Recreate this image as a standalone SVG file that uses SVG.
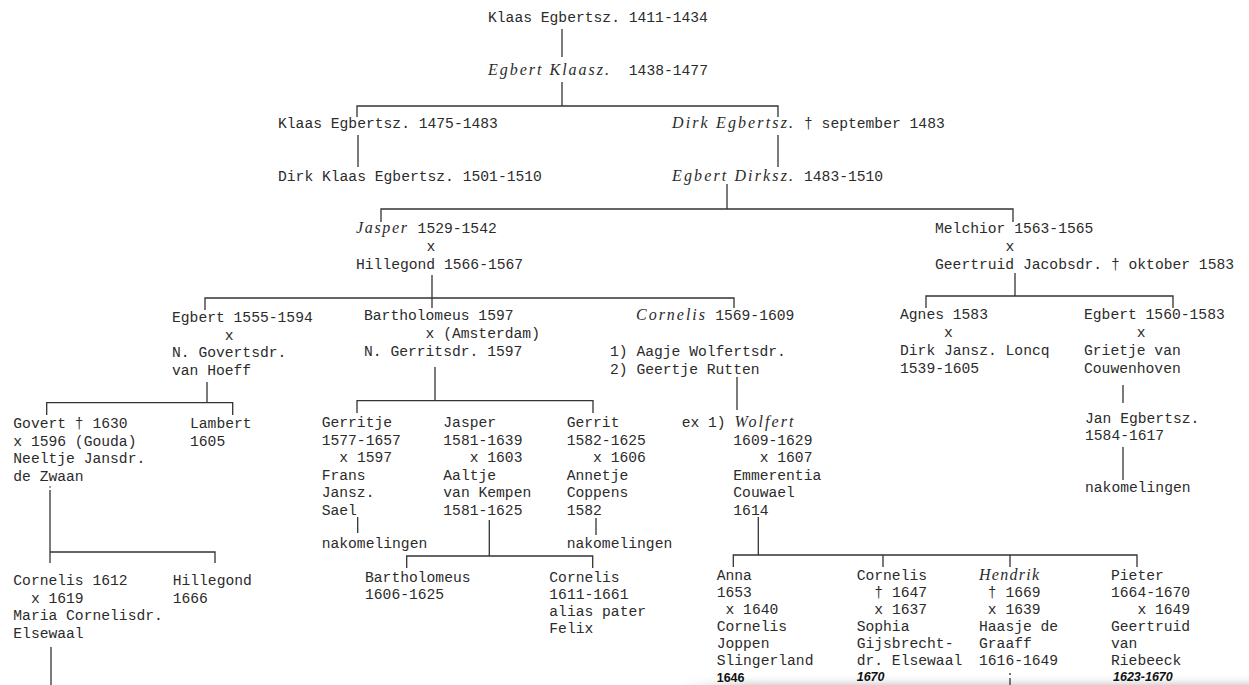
<svg xmlns="http://www.w3.org/2000/svg" width="1249" height="685" viewBox="0 0 1249 685">
<defs>
<style>
.t{font-family:"Liberation Mono","DejaVu Sans Mono",monospace;font-size:14.67px;fill:#2b2b2b}
.i{font-family:"Liberation Serif","DejaVu Serif",serif;font-style:italic;font-size:16px;fill:#2b2b2b}
.h{font-family:"Liberation Sans","DejaVu Sans",sans-serif;font-weight:bold;font-style:italic;font-size:12.5px;fill:#111}
.hn{font-style:normal}
.c path{stroke:#333;stroke-width:1.3;fill:none}
</style>
<linearGradient id="band" x1="0" y1="0" x2="0" y2="1">
<stop offset="0" stop-color="#ffffff" stop-opacity="0"/>
<stop offset="1" stop-color="#d9d9d9"/>
</linearGradient>
<linearGradient id="fade" x1="0" y1="0" x2="1" y2="0">
<stop offset="0" stop-color="#fff"/>
<stop offset="0.12" stop-color="#fff" stop-opacity="0"/>
</linearGradient>
</defs>
<rect x="0" y="0" width="1249" height="685" fill="#ffffff"/>
<rect x="680" y="674" width="569" height="11" fill="url(#band)"/>
<rect x="680" y="674" width="569" height="11" fill="url(#fade)"/>

<g id="connectors" class="c">
<path d="M562 29V57"/>
<path d="M562 82V106"/>
<path d="M357 117V106H778V117"/>
<path d="M358 135V167"/>
<path d="M778 135V167"/>
<path d="M727 184V209"/>
<path d="M381 222V209H1013V222"/>
<path d="M432 275V308"/>
<path d="M205 310V298H734V308"/>
<path d="M1015 273V296"/>
<path d="M926 308V296H1173V308"/>
<path d="M207 382V402.7"/>
<path d="M46.7 415V402.7H232.7V415"/>
<path d="M435 367V400.7"/>
<path d="M357 413V400.7H593V413"/>
<path d="M737 377V410"/>
<path d="M1123 385V403"/>
<path d="M1123 447V480"/>
<path d="M50 490V563"/>
<path d="M50 552H215V563"/>
<path d="M357.7 517V533"/>
<path d="M596 518V535"/>
<path d="M489.3 520V556"/>
<path d="M406.7 568V556H592.7V568"/>
<path d="M758.3 517V555"/>
<path d="M733.3 567V555H1137V567"/>
<path d="M883 555V567"/>
<path d="M1010 555V567"/>
<path d="M51 647V685"/>
<path d="M1010 678V685"/>
<circle cx="1010" cy="674" r="0.9" fill="#333"/>
<circle cx="50" cy="487" r="0.8" fill="#333"/>
</g>

<g id="n-klaas-1411"><text class="t" x="488" y="22">Klaas Egbertsz. 1411-1434</text></g>
<g id="n-egbert-klaasz"><text class="i" x="488" y="75" textLength="121" lengthAdjust="spacing">Egbert Klaasz.</text><text class="t" x="628.8" y="75">1438-1477</text></g>
<g id="n-klaas-1475"><text class="t" x="278" y="128">Klaas Egbertsz. 1475-1483</text></g>
<g id="n-dirk-egbertsz"><text class="i" x="672" y="128" textLength="121" lengthAdjust="spacing">Dirk Egbertsz.</text><text class="t" x="804" y="128">† september 1483</text></g>
<g id="n-dirk-klaas"><text class="t" x="278" y="181">Dirk Klaas Egbertsz. 1501-1510</text></g>
<g id="n-egbert-dirksz"><text class="i" x="672" y="181" textLength="121" lengthAdjust="spacing">Egbert Dirksz.</text><text class="t" x="804" y="181">1483-1510</text></g>

<g id="n-jasper"><text class="i" x="356" y="233" textLength="51" lengthAdjust="spacing">Jasper</text><text class="t" x="417.6" y="233">1529-1542</text><text class="t" x="426.4" y="251">x</text><text class="t" x="356" y="269">Hillegond 1566-1567</text></g>
<g id="n-melchior"><text class="t" x="935" y="233">Melchior 1563-1565</text><text class="t" x="1005.4" y="251">x</text><text class="t" x="935" y="269">Geertruid Jacobsdr. † oktober 1583</text></g>

<g id="n-egbert-1555"><text class="t" x="172" y="322">Egbert 1555-1594</text><text class="t" x="224.8" y="339.5">x</text><text class="t" x="172" y="357">N. Govertsdr.</text><text class="t" x="172" y="374.5">van Hoeff</text></g>
<g id="n-bartholomeus-1597"><text class="t" x="364" y="320">Bartholomeus 1597</text><text class="t" x="425.6" y="338">x (Amsterdam)</text><text class="t" x="364" y="356">N. Gerritsdr. 1597</text></g>
<g id="n-cornelis-1569"><text class="i" x="636" y="320" textLength="69" lengthAdjust="spacing">Cornelis</text><text class="t" x="715.2" y="320">1569-1609</text><text class="t" x="610" y="356">1) Aagje Wolfertsdr.</text><text class="t" x="610" y="373.5">2) Geertje Rutten</text></g>
<g id="n-agnes"><text class="t" x="900" y="318.5">Agnes 1583</text><text class="t" x="944" y="337">x</text><text class="t" x="900" y="355">Dirk Jansz. Loncq</text><text class="t" x="900" y="372.5">1539-1605</text></g>
<g id="n-egbert-1560"><text class="t" x="1084" y="318.5">Egbert 1560-1583</text><text class="t" x="1136.8" y="337">x</text><text class="t" x="1084" y="355">Grietje van</text><text class="t" x="1084" y="372.5">Couwenhoven</text></g>
<g id="n-jan-egbertsz"><text class="t" x="1085" y="423">Jan Egbertsz.</text><text class="t" x="1085" y="440">1584-1617</text></g>
<g id="n-nakomelingen-3"><text class="t" x="1085" y="492">nakomelingen</text></g>

<g id="n-govert"><text class="t" x="13.3" y="428">Govert † 1630</text><text class="t" x="13.3" y="445.7">x 1596 (Gouda)</text><text class="t" x="13.3" y="463.4">Neeltje Jansdr.</text><text class="t" x="13.3" y="481">de Zwaan</text></g>
<g id="n-lambert"><text class="t" x="190" y="428">Lambert</text><text class="t" x="190" y="445.7">1605</text></g>
<g id="n-gerritje"><text class="t" x="321.7" y="427">Gerritje</text><text class="t" x="321.7" y="444.5">1577-1657</text><text class="t" x="339.3" y="462">x 1597</text><text class="t" x="321.7" y="479.5">Frans</text><text class="t" x="321.7" y="497">Jansz.</text><text class="t" x="321.7" y="514.5">Sael</text></g>
<g id="n-nakomelingen-1"><text class="t" x="321.7" y="548">nakomelingen</text></g>
<g id="n-jasper-1581"><text class="t" x="443.3" y="427">Jasper</text><text class="t" x="443.3" y="444.5">1581-1639</text><text class="t" x="469.7" y="462">x 1603</text><text class="t" x="443.3" y="479.5">Aaltje</text><text class="t" x="443.3" y="497">van Kempen</text><text class="t" x="443.3" y="514.5">1581-1625</text></g>
<g id="n-gerrit"><text class="t" x="566.7" y="427">Gerrit</text><text class="t" x="566.7" y="444.5">1582-1625</text><text class="t" x="593.1" y="462">x 1606</text><text class="t" x="566.7" y="479.5">Annetje</text><text class="t" x="566.7" y="497">Coppens</text><text class="t" x="566.7" y="514.5">1582</text></g>
<g id="n-nakomelingen-2"><text class="t" x="566.7" y="548">nakomelingen</text></g>
<g id="n-wolfert"><text class="t" x="681.7" y="427">ex 1)</text><text class="i" x="734.5" y="427" textLength="59" lengthAdjust="spacing">Wolfert</text><text class="t" x="733.3" y="444.5">1609-1629</text><text class="t" x="759.7" y="462">x 1607</text><text class="t" x="733.3" y="479.5">Emmerentia</text><text class="t" x="733.3" y="497">Couwael</text><text class="t" x="733.3" y="514.5">1614</text></g>

<g id="n-cornelis-1612"><text class="t" x="13.3" y="585">Cornelis 1612</text><text class="t" x="30.9" y="602.5">x 1619</text><text class="t" x="13.3" y="620">Maria Cornelisdr.</text><text class="t" x="13.3" y="637.5">Elsewaal</text></g>
<g id="n-hillegond-1666"><text class="t" x="172.7" y="585">Hillegond</text><text class="t" x="172.7" y="602.5">1666</text></g>
<g id="n-bartholomeus-1606"><text class="t" x="365" y="582">Bartholomeus</text><text class="t" x="365" y="599">1606-1625</text></g>
<g id="n-cornelis-1611"><text class="t" x="549.3" y="582">Cornelis</text><text class="t" x="549.3" y="599">1611-1661</text><text class="t" x="549.3" y="616">alias pater</text><text class="t" x="549.3" y="633">Felix</text></g>
<g id="n-anna"><text class="t" x="716.7" y="580">Anna</text><text class="t" x="716.7" y="597">1653</text><text class="t" x="725.5" y="614">x 1640</text><text class="t" x="716.7" y="631">Cornelis</text><text class="t" x="716.7" y="648">Joppen</text><text class="t" x="716.7" y="665">Slingerland</text><text class="h hn" x="716.7" y="682">1646</text></g>
<g id="n-cornelis-1647"><text class="t" x="856.7" y="579.5">Cornelis</text><text class="t" x="874.3" y="596.5">† 1647</text><text class="t" x="874.3" y="613.5">x 1637</text><text class="t" x="856.7" y="630.5">Sophia</text><text class="t" x="856.7" y="647.5">Gijsbrecht-</text><text class="t" x="856.7" y="664.5">dr. Elsewaal</text><text class="h" x="856.7" y="681">1670</text></g>
<g id="n-hendrik"><text class="i" x="979" y="579.5" textLength="60" lengthAdjust="spacing">Hendrik</text><text class="t" x="987.8" y="596.5">† 1669</text><text class="t" x="987.8" y="613.5">x 1639</text><text class="t" x="979" y="630.5">Haasje de</text><text class="t" x="979" y="647.5">Graaff</text><text class="t" x="979" y="664.5">1616-1649</text></g>
<g id="n-pieter"><text class="t" x="1111" y="579.5">Pieter</text><text class="t" x="1111" y="596.5">1664-1670</text><text class="t" x="1137.4" y="613.5">x 1649</text><text class="t" x="1111" y="630.5">Geertruid</text><text class="t" x="1111" y="647.5">van</text><text class="t" x="1111" y="664.5">Riebeeck</text><text class="h" x="1113" y="681">1623-1670</text></g>
</svg>
